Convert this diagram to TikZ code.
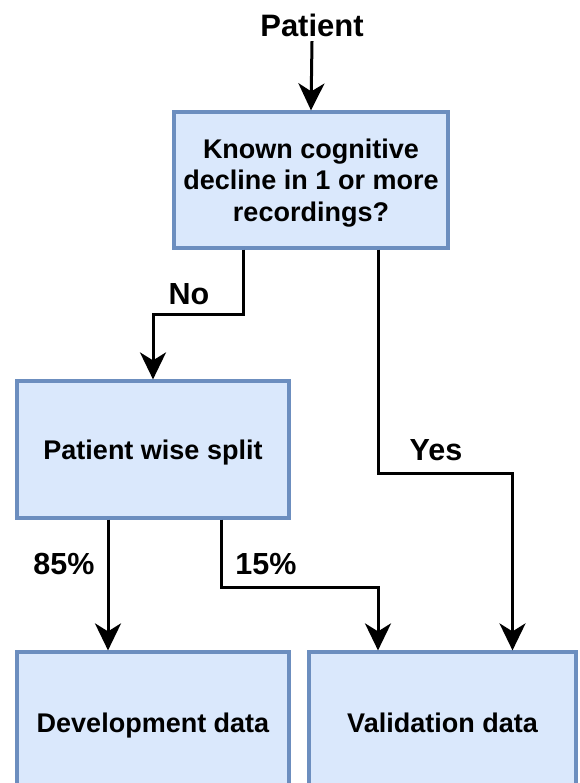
\documentclass[tikz,border=0pt]{standalone}
\usepackage{fontspec}
\setmainfont{Liberation Sans}
\usetikzlibrary{arrows.meta}
\begin{document}
\begin{tikzpicture}[x=1pt,y=1pt,line width=3pt,
  >={Stealth[length=27pt,width=26pt,inset=8pt]},
  box/.style={draw=boxline,fill=boxfill,line width=3.2pt,rectangle,align=center,
    font=\fontsize{27}{31.5}\selectfont\bfseries,inner sep=0pt,text depth=0pt},
  onebox/.style={box,text height=19pt},
  lbl/.style={font=\fontsize{30.5}{36}\selectfont\bfseries}]
\definecolor{boxline}{HTML}{6C8EBF}
\definecolor{boxfill}{HTML}{DAE8FC}
\useasboundingbox (0,-783) rectangle (579,0);
\node (patient) at (312,-25) [font=\fontsize{31}{36}\selectfont\bfseries] {Patient};
\node (known) at (311,-180) [box,minimum width=274pt,minimum height=136pt]
  {Known cognitive\\decline in 1 or more\\recordings?};
\node (split) at (153,-449.5) [onebox,minimum width=272pt,minimum height=137pt] {Patient wise split};
\node (devel) at (153,-723) [onebox,minimum width=272pt,minimum height=142pt] {Development data};
\node (valid) at (442.5,-723) [onebox,minimum width=267pt,minimum height=142pt] {Validation data};
\draw[->] (patient.south) -- (known.north);
\draw[->] ([xshift=-68pt]known.south) -- ++(0,-65) -| (split.north);
\draw[->] ([xshift=67pt]known.south) -- ++(0,-224) -| ([xshift=70pt]valid.north);
\draw[->] ([xshift=-45pt]split.south) -- ([xshift=-45pt]devel.north);
\draw[->] ([xshift=68pt]split.south) -- ++(0,-68) -| ([xshift=-64.5pt]valid.north);
\node (no) at (189,-294) [lbl] {No};
\node (yes) at (436,-450) [lbl] {Yes};
\node (eightyfive) at (64,-564) [lbl] {85\%};
\node (fifteen) at (266,-564) [lbl] {15\%};
\end{tikzpicture}
\end{document}
